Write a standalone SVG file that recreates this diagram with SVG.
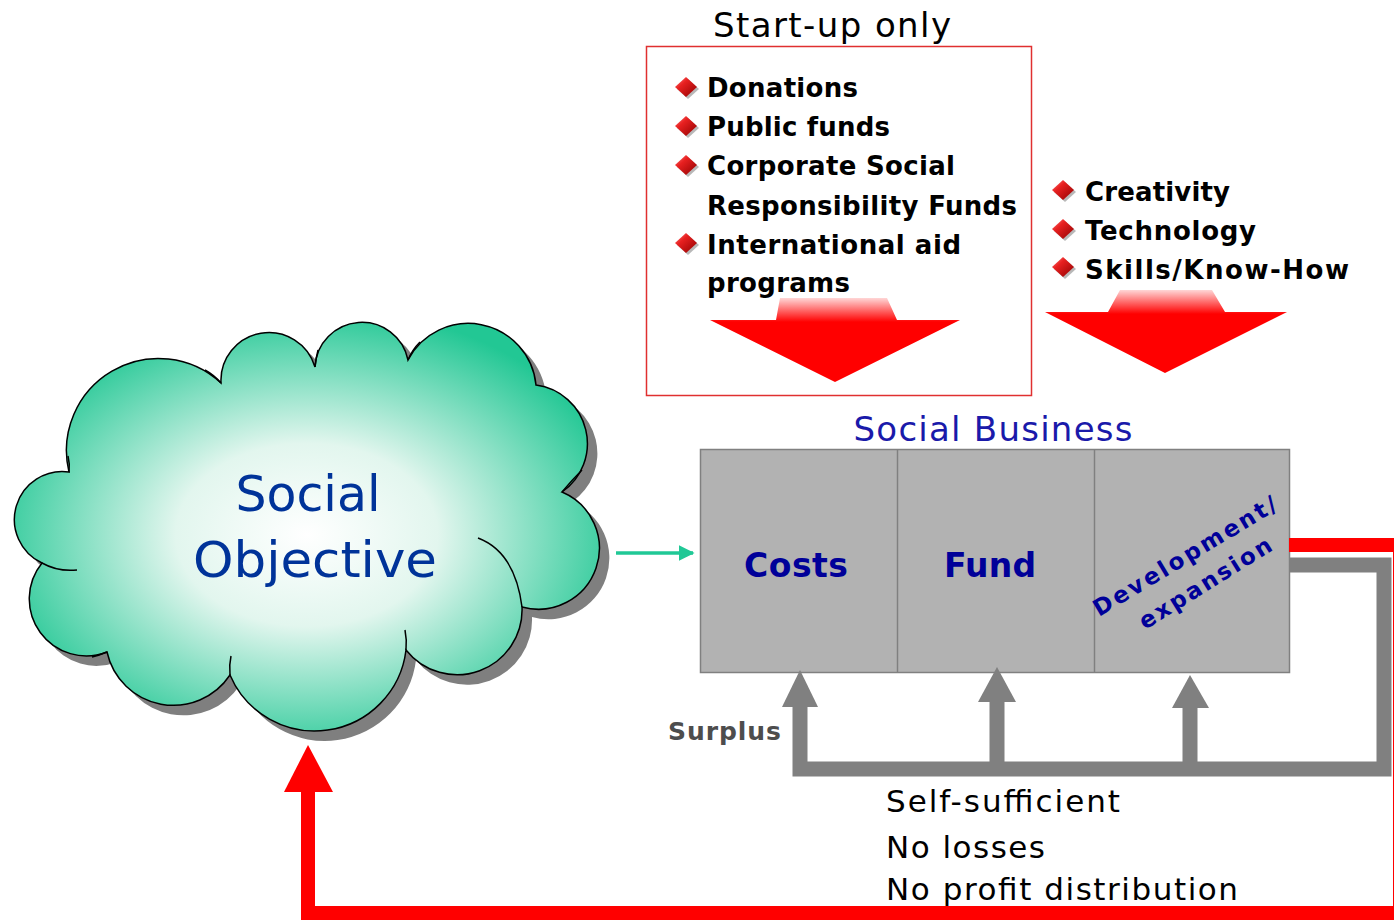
<svg xmlns="http://www.w3.org/2000/svg" width="1394" height="921" viewBox="0 0 1394 921">
<style>
.bul{font-family:"DejaVu Sans","Liberation Sans",sans-serif;font-weight:bold;font-size:26px;fill:#000}
.blue{font-family:"DejaVu Sans","Liberation Sans",sans-serif;fill:#000099}
.plain{font-family:"DejaVu Sans","Liberation Sans",sans-serif;font-size:31px;fill:#000}
.cl{fill:none;stroke:#000;stroke-width:1.5}
</style>
<defs>
<radialGradient id="cloudG" cx="0.5" cy="0.52" r="0.56">
<stop offset="0" stop-color="#ffffff"/>
<stop offset="0.4" stop-color="#e2f6ee"/>
<stop offset="1" stop-color="#22c794"/>
</radialGradient>
<linearGradient id="dia" x1="0" y1="0" x2="1" y2="1">
<stop offset="0" stop-color="#ff8080"/>
<stop offset="0.35" stop-color="#e82020"/>
<stop offset="1" stop-color="#900000"/>
</linearGradient>
<linearGradient id="arrL" gradientUnits="userSpaceOnUse" x1="0" y1="296" x2="0" y2="322">
<stop offset="0" stop-color="#ffe8e8"/>
<stop offset="1" stop-color="#ff0000"/>
</linearGradient>
<linearGradient id="arrR" gradientUnits="userSpaceOnUse" x1="0" y1="288" x2="0" y2="314">
<stop offset="0" stop-color="#ffe8e8"/>
<stop offset="1" stop-color="#ff0000"/>
</linearGradient>
<g id="bullet">
<path d="M2,2 L13,-8 L24,2 L13,12 Z" fill="#9a9a9a" opacity="0.7"/>
<path d="M0,0 L11,-10 L22,0 L11,10 Z" fill="url(#dia)"/>
</g>
<marker id="tealHead" viewBox="0 0 10 10" refX="9" refY="5" markerWidth="4.5" markerHeight="4.5" orient="auto">
<path d="M0,0 L10,5 L0,10 Z" fill="#20c896"/>
</marker>
</defs>

<g id="startup-box">
<text x="832" y="37" text-anchor="middle" font-family="DejaVu Sans, sans-serif" font-size="34" textLength="238" lengthAdjust="spacing">Start-up only</text>
<rect x="646.5" y="46.5" width="385" height="349" fill="none" stroke="#e03030" stroke-width="1.5"/>
<use href="#bullet" x="675" y="87"/>
<use href="#bullet" x="675" y="126"/>
<use href="#bullet" x="675" y="165"/>
<use href="#bullet" x="675" y="243"/>
<text class="bul" x="707" y="97" textLength="151" lengthAdjust="spacing">Donations</text>
<text class="bul" x="707" y="136" textLength="183" lengthAdjust="spacing">Public funds</text>
<text class="bul" x="707" y="175" textLength="248" lengthAdjust="spacing">Corporate Social</text>
<text class="bul" x="707" y="215" textLength="310" lengthAdjust="spacing">Responsibility Funds</text>
<text class="bul" x="707" y="254" textLength="254" lengthAdjust="spacing">International aid</text>
<text class="bul" x="707" y="292" textLength="143" lengthAdjust="spacing">programs</text>
<polygon points="780,298 887,298 897,320 960,320 835,382 710,320 776,320" fill="url(#arrL)"/>
</g>

<g id="resources">
<use href="#bullet" x="1052" y="190"/>
<use href="#bullet" x="1052" y="229"/>
<use href="#bullet" x="1052" y="267"/>
<text class="bul" x="1085" y="201" textLength="145" lengthAdjust="spacing">Creativity</text>
<text class="bul" x="1085" y="240" textLength="171" lengthAdjust="spacing">Technology</text>
<text class="bul" x="1085" y="279" textLength="264" lengthAdjust="spacing">Skills/Know-How</text>
<polygon points="1120,290 1212,290 1225,312 1287,312 1165,373 1045,312 1108,312" fill="url(#arrR)"/>
</g>

<g id="social-objective">
<path transform="translate(10,10)" fill="#7f7f7f" d="M42,563 A48,48 0 0 1 69,472 A92,92 0 0 1 221,383 A48,48 0 0 1 315,367 A47,47 0 0 1 408,360 A68,68 0 0 1 536,385 A59,59 0 0 1 562,492 A61,61 0 0 1 522,607 A65,65 0 0 1 406,650 A92,92 0 0 1 230,675 A68,68 0 0 1 107,652 A57,57 0 0 1 42,563 Z"/>
<path fill="url(#cloudG)" stroke="#000" stroke-width="1.5" d="M42,563 A48,48 0 0 1 69,472 A92,92 0 0 1 221,383 A48,48 0 0 1 315,367 A47,47 0 0 1 408,360 A68,68 0 0 1 536,385 A59,59 0 0 1 562,492 A61,61 0 0 1 522,607 A65,65 0 0 1 406,650 A92,92 0 0 1 230,675 A68,68 0 0 1 107,652 A57,57 0 0 1 42,563 Z"/>
<path class="cl" d="M478,538 Q515,552 522,607"/>
<path class="cl" d="M107,652 Q100,655 92,657"/>
<path class="cl" d="M42,563 Q58,572 77,570"/>
<path class="cl" d="M406,650 Q407,640 405,630"/>
<path class="cl" d="M408,360 Q412,350 420,342"/>
<path class="cl" d="M315,367 Q316,358 318,350"/>
<path class="cl" d="M221,383 Q214,375 205,370"/>
<path class="cl" d="M562,492 Q572,480 582,470"/>
<path class="cl" d="M230,675 Q229,665 231,656"/>
<path class="cl" d="M69,472 Q70,464 68,456"/>
<text x="308" y="511" text-anchor="middle" font-family="DejaVu Sans, sans-serif" font-size="50" fill="#003399" textLength="145" lengthAdjust="spacingAndGlyphs">Social</text>
<text x="315" y="577" text-anchor="middle" font-family="DejaVu Sans, sans-serif" font-size="50" fill="#003399" textLength="244" lengthAdjust="spacingAndGlyphs">Objective</text>
</g>

<g id="social-business">
<text x="993" y="441" text-anchor="middle" font-family="DejaVu Sans, sans-serif" font-size="34" fill="#1a1aaa" textLength="279" lengthAdjust="spacing">Social Business</text>
<rect x="700.5" y="449.5" width="589" height="223" fill="#b2b2b2" stroke="#808080" stroke-width="1.5"/>
<line x1="897.5" y1="449.5" x2="897.5" y2="672.5" stroke="#808080" stroke-width="1.5"/>
<line x1="1094.5" y1="449.5" x2="1094.5" y2="672.5" stroke="#808080" stroke-width="1.5"/>
<text class="blue" x="796" y="577" text-anchor="middle" font-size="33" font-weight="bold" textLength="104" lengthAdjust="spacing">Costs</text>
<text class="blue" x="990" y="577" text-anchor="middle" font-size="33" font-weight="bold" textLength="92" lengthAdjust="spacing">Fund</text>
<text class="blue" x="1099" y="617" font-size="23" font-weight="bold" transform="rotate(-31 1099 617)" textLength="210" lengthAdjust="spacing">Development/</text>
<text class="blue" x="1145" y="630" font-size="23" font-weight="bold" transform="rotate(-32 1145 630)" textLength="152" lengthAdjust="spacing">expansion</text>
</g>

<g id="connectors">
<line x1="616" y1="553" x2="693" y2="553" stroke="#20c896" stroke-width="3.5" marker-end="url(#tealHead)"/>
<path d="M1289,565 H1384 V769 H800 V704" fill="none" stroke="#808080" stroke-width="15" stroke-linejoin="miter"/>
<path d="M997,769 V700 M1190,769 V706" fill="none" stroke="#808080" stroke-width="15"/>
<polygon points="782,707 818,707 800,670" fill="#808080"/>
<polygon points="978,702 1016,702 997,667" fill="#808080"/>
<polygon points="1172,708 1209,708 1190,675" fill="#808080"/>
<path d="M1289,545 H1400 V913 H308 V790" fill="none" stroke="#ff0000" stroke-width="14" stroke-linejoin="miter"/>
<polygon points="284,792 333,792 308,745" fill="#ff0000"/>
</g>

<g id="labels">
<text x="668" y="740" font-family="DejaVu Sans, sans-serif" font-weight="bold" font-size="25" fill="#4d4d4d" textLength="113" lengthAdjust="spacing">Surplus</text>
<text class="plain" x="886" y="812" textLength="234" lengthAdjust="spacing">Self-sufficient</text>
<text class="plain" x="886" y="858" textLength="159" lengthAdjust="spacing">No losses</text>
<text class="plain" x="886" y="900" textLength="352" lengthAdjust="spacing">No profit distribution</text>
</g>
</svg>
